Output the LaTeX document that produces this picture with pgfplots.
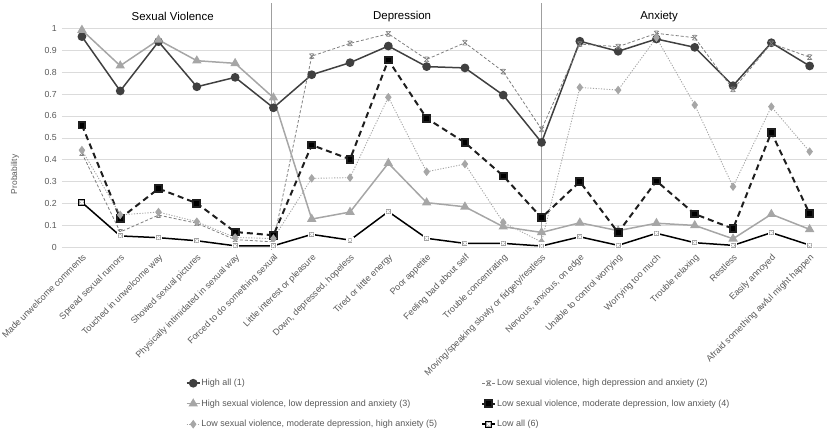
\documentclass[border=0pt]{standalone}
\usepackage{pgfplots}
\pgfplotsset{compat=1.18}
\usepackage{fontspec}
\setmainfont{Liberation Sans}
\definecolor{cA}{HTML}{404040}
\definecolor{cB}{HTML}{7F7F7F}
\definecolor{cC}{HTML}{A6A6A6}
\definecolor{cD}{HTML}{1E1E1E}
\definecolor{cE}{HTML}{A6A6A6}
\definecolor{txt}{HTML}{595959}
\pgfdeclareplotmark{sqx}{%
  \pgfpathrectangle{\pgfqpoint{-\pgfplotmarksize}{-\pgfplotmarksize}}{\pgfqpoint{2\pgfplotmarksize}{2\pgfplotmarksize}}%
  \pgfusepathqfillstroke
  \pgfsetstrokecolor{white}\pgfsetlinewidth{1.1pt}%
  \pgfpathmoveto{\pgfqpoint{-0.5\pgfplotmarksize}{-0.5\pgfplotmarksize}}%
  \pgfpathlineto{\pgfqpoint{0.5\pgfplotmarksize}{0.5\pgfplotmarksize}}%
  \pgfpathmoveto{\pgfqpoint{-0.5\pgfplotmarksize}{0.5\pgfplotmarksize}}%
  \pgfpathlineto{\pgfqpoint{0.5\pgfplotmarksize}{-0.5\pgfplotmarksize}}%
  \pgfusepathqstroke}
\pgfdeclareplotmark{xstar}{%
  \pgfpathmoveto{\pgfqpoint{-\pgfplotmarksize}{-\pgfplotmarksize}}%
  \pgfpathlineto{\pgfqpoint{\pgfplotmarksize}{\pgfplotmarksize}}%
  \pgfpathmoveto{\pgfqpoint{-\pgfplotmarksize}{\pgfplotmarksize}}%
  \pgfpathlineto{\pgfqpoint{\pgfplotmarksize}{-\pgfplotmarksize}}%
  \pgfpathmoveto{\pgfqpoint{-0.6\pgfplotmarksize}{\pgfplotmarksize}}%
  \pgfpathlineto{\pgfqpoint{0.6\pgfplotmarksize}{\pgfplotmarksize}}%
  \pgfpathmoveto{\pgfqpoint{-0.6\pgfplotmarksize}{-\pgfplotmarksize}}%
  \pgfpathlineto{\pgfqpoint{0.6\pgfplotmarksize}{-\pgfplotmarksize}}%
  \pgfusepathqstroke}
\begin{document}
\begin{tikzpicture}
\path[use as bounding box] (-62bp,251.7bp) rectangle (768bp,-181.3bp);
\begin{axis}[
  at={(0,0)}, anchor=south west,
  scale only axis, width=764.5bp, height=249.7bp,
  xmin=-0.52, xmax=19.44, ymin=-0.02, ymax=1.12,
  clip=false,
  axis line style={draw=none},
  major tick length=0pt,
  ytick={0,0.1,...,1.0},
  yticklabels={0,0.1,0.2,0.3,0.4,0.5,0.6,0.7,0.8,0.9,1},
  ymajorgrids, grid style={color=gray!28, line width=0.6pt},
  xtick={0,...,19},
  xticklabels={Made unwelcome comments,Spread sexual rumors,Touched in unwelcome way,Showed sexual pictures,Physically intimidated in sexual way,Forced to do something sexual,Little interest or pleasure,{Down, depressed, hopeless},Tired or little energy,Poor appetite,Feeling bad about self,Trouble concentrating,Moving/speaking slowly or fidgety/restless,{Nervous, anxious, on edge},Unable to control worrying,Worrying too much,Trouble relaxing,Restless,Easily annoyed,Afraid something awful might happen},
  xticklabel style={rotate=45, anchor=north east, inner sep=1bp, font=\fontsize{9}{10.5}\selectfont, text=txt},
  yticklabel style={font=\fontsize{8.8}{10}\selectfont, text=txt, inner sep=1bp, xshift=-4bp},
  /pgf/number format/assume math mode=true,
  ylabel={Probability},
  ylabel style={at={(axis description cs:-0.0615,0.31)}, anchor=center, font=\fontsize{8.5}{9}\selectfont, text=txt},
  legend columns=2,
  legend cell align=left,
  legend style={draw=none, fill=none, at={(0.158,-0.498)}, anchor=north west,
    font=\fontsize{9}{10.5}\selectfont, text=txt, row sep=10.5bp,
    nodes={inner sep=1bp},
    /tikz/every even column/.append style={column sep=43bp}},
  legend image code/.code={\draw[mark repeat=2,mark phase=2,#1] plot coordinates {(0bp,0bp) (6.5bp,0bp) (13bp,0bp)};},
]
\addplot[color=cA, line width=1.5pt, mark=*, mark size=3.6bp, mark options={solid, fill=cA}] coordinates {
(0,0.962)(1,0.714)(2,0.939)(3,0.733)(4,0.776)(5,0.637)(6,0.788)(7,0.843)(8,0.919)(9,0.825)(10,0.819)(11,0.695)(12,0.479)(13,0.941)(14,0.895)(15,0.951)(16,0.913)(17,0.738)(18,0.934)(19,0.828)};
\addlegendentry{High all (1)}
\addplot[color=cB, line width=0.8pt, dash pattern=on 3bp off 2bp, mark=xstar, mark size=2.4bp, mark options={solid, line width=0.7pt}] coordinates {
(0,0.43)(1,0.07)(2,0.147)(3,0.11)(4,0.035)(5,0.025)(6,0.873)(7,0.931)(8,0.975)(9,0.858)(10,0.934)(11,0.802)(12,0.539)(13,0.928)(14,0.916)(15,0.977)(16,0.957)(17,0.721)(18,0.931)(19,0.868)};
\addlegendentry{Low sexual violence, high depression and anxiety (2)}
\addplot[color=cC, line width=1.5pt, mark=triangle*, mark size=4bp, mark options={solid, fill=cC}] coordinates {
(0,0.992)(1,0.829)(2,0.947)(3,0.852)(4,0.84)(5,0.683)(6,0.129)(7,0.161)(8,0.384)(9,0.204)(10,0.185)(11,0.094)(12,0.068)(13,0.112)(14,0.076)(15,0.11)(16,0.1)(17,0.039)(18,0.151)(19,0.082)};
\addlegendentry{High sexual violence, low depression and anxiety (3)}
\addplot[color=cD, line width=2pt, dash pattern=on 6bp off 4bp, mark=square*, mark size=3.4bp, mark options={solid, fill=black}] coordinates {
(0,0.558)(1,0.132)(2,0.268)(3,0.201)(4,0.07)(5,0.055)(6,0.467)(7,0.402)(8,0.855)(9,0.589)(10,0.478)(11,0.326)(12,0.135)(13,0.3)(14,0.067)(15,0.303)(16,0.152)(17,0.085)(18,0.525)(19,0.153)};
\addlegendentry{Low sexual violence, moderate depression, low anxiety (4)}
\addplot[color=cE, line width=0.9pt, dash pattern=on 1.2bp off 1.5bp, mark=diamond*, mark size=3.6bp, mark options={solid, fill=cE}] coordinates {
(0,0.444)(1,0.148)(2,0.161)(3,0.117)(4,0.045)(5,0.04)(6,0.315)(7,0.318)(8,0.685)(9,0.345)(10,0.38)(11,0.114)(12,0.024)(13,0.73)(14,0.718)(15,0.957)(16,0.65)(17,0.277)(18,0.642)(19,0.437)};
\addlegendentry{Low sexual violence, moderate depression, high anxiety (5)}
\addplot[color=black, line width=1.5pt, mark=sqx, mark size=3bp, mark options={solid, fill=gray!75, draw=black, line width=0.9pt}] coordinates {
(0,0.205)(1,0.052)(2,0.044)(3,0.03)(4,0.007)(5,0.007)(6,0.059)(7,0.033)(8,0.163)(9,0.041)(10,0.018)(11,0.018)(12,0.006)(13,0.048)(14,0.009)(15,0.064)(16,0.021)(17,0.009)(18,0.067)(19,0.01)};
\addlegendentry{Low all (6)}
\draw[color=gray!75, line width=1pt] (axis cs:4.95,-0.012) -- (axis cs:4.95,1.115);
\draw[color=gray!75, line width=1pt] (axis cs:12,-0.012) -- (axis cs:12,1.115);
\node[font=\fontsize{11.5}{13}\selectfont] at (axis cs:2.37,1.052) {Sexual Violence};
\node[font=\fontsize{11.5}{13}\selectfont] at (axis cs:8.36,1.052) {Depression};
\node[font=\fontsize{11.5}{13}\selectfont] at (axis cs:15.07,1.052) {Anxiety};
\end{axis}
\end{tikzpicture}
\end{document}
